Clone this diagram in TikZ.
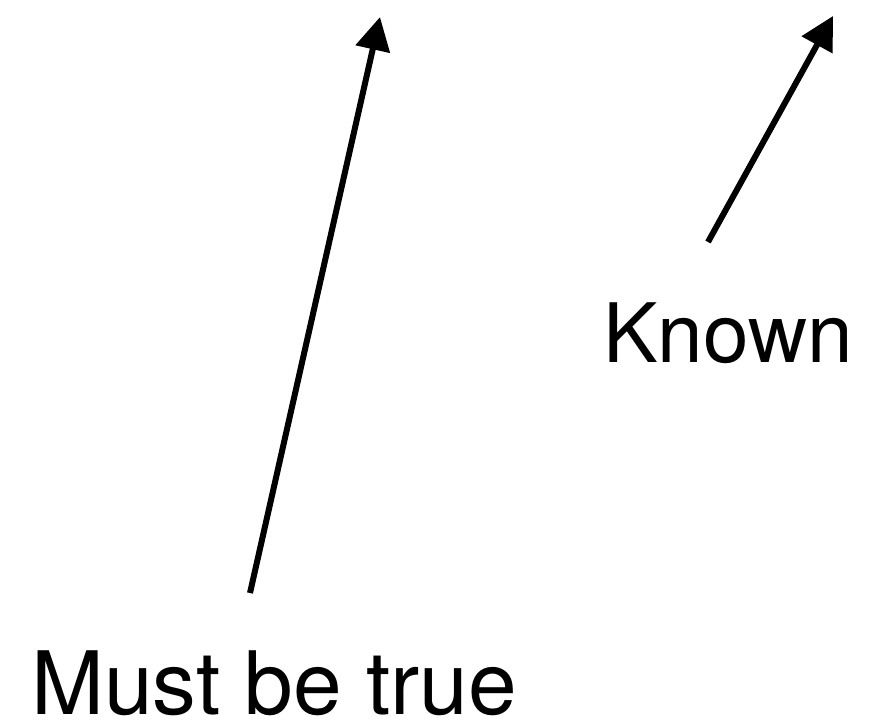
\documentclass[tikz,border=0pt]{standalone}
\usepackage{fontspec}
\setmainfont{TeX Gyre Heros}
\usetikzlibrary{arrows.meta}
\begin{document}
\begin{tikzpicture}[x=1pt,y=-1pt,
  arr/.style={line width=6pt,-{Triangle[length=33pt,width=34pt]}},
  lbl/.style={inner sep=0pt,anchor=base west,text depth=0pt}]
\useasboundingbox (0,0) rectangle (871,721);
\node[lbl,font=\fontsize{87.5}{87.5}\selectfont] (must) at (31,714) {Must be true};
\node[lbl,font=\fontsize{82}{82}\selectfont] (known) at (603,362) {Known};
\coordinate (s1) at (250,593);
\coordinate (e1) at (380,17);
\coordinate (s2) at (708,242);
\coordinate (e2) at (833,16);
\draw[arr] (s1) -- (e1);
\draw[arr] (s2) -- (e2);
\end{tikzpicture}
\end{document}
